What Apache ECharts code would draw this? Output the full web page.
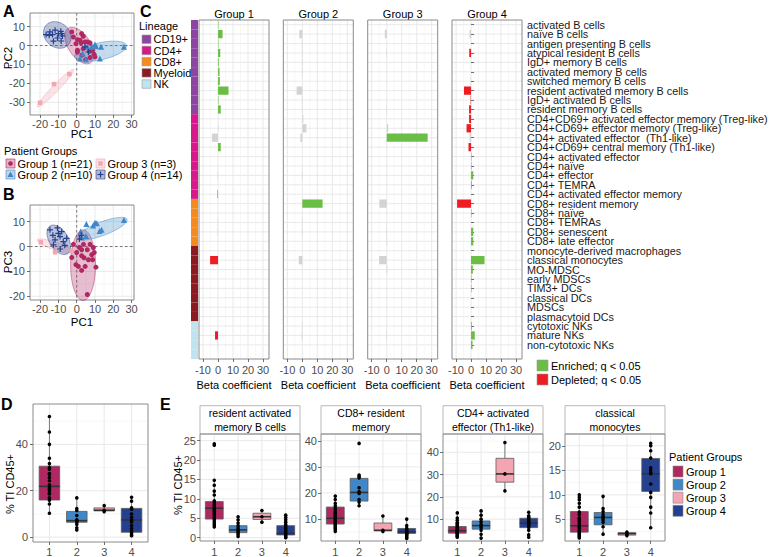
<!DOCTYPE html>
<html>
<head>
<meta charset="utf-8">
<script src="https://cdn.jsdelivr.net/npm/echarts@6/dist/echarts.min.js"></script>
<style>
  * { margin: 0; padding: 0; }
  body { background: #fff; }
  #main { width: 780px; height: 557px; }
</style>
</head>
<body>
<div id="main"></div>
<script>
const FONT = 'Liberation Sans, Arial, Helvetica, sans-serif';

// ---------- groups ----------
const groupNames = ['Group 1', 'Group 2', 'Group 3', 'Group 4'];
const groupN = [21, 10, 3, 14];
const groupColors = ['#B02862', '#3F87C6', '#F3A5B1', '#24408F'];

// ---------- A / B : PCA ----------
const pcaA_g1 = [[-2.7,7.2],[-1.8,4.5],[0.4,3.1],[1.8,2.8],[2.4,1.4],[4.5,1.9],[5.8,1.9],[7.3,1.4],[2.7,6.3],[-0.4,1.0],[0.4,-2.5],[3.6,-1.6],[6.9,-3.0],[8.7,-2.5],[9.5,-4.6],[7.3,-6.3],[0.4,-3.4],[2.9,-5.1],[4.9,-7.4],[10,-6],[3.6,4.9]];
const pcaA_g2 = [[1.8,-6.8],[5.1,-7.4],[5.8,-0.7],[8.2,-0.7],[10.5,-0.4],[13.3,-0.7],[12.7,-6.8],[25.8,-0.7],[3.3,-4.2],[10,0.5]];
const pcaA_g3 = [[-20,-30.2],[-12.4,-20.4],[-4,-15.1]];
const pcaA_g4 = [[-16.7,5.8],[-15,5.4],[-13.2,5.8],[-11.8,8.1],[-10,6.3],[-8.7,7.5],[-7.8,5.1],[-10.5,4],[-12.7,2.3],[-8.5,2.4],[-8.2,6.3],[-14.6,7.2],[4.5,-0.7],[6.4,-3.4]];
// ellipses: [cx, cy, rx, ry, angle deg]
const ellA = [[1.5,0,11,6,-55],[13,-3,14.5,4.5,12],[-11.5,-22.5,14,1.8,45],[-10.6,5.6,8,6.5,-35]];

const pcaB_g1 = [[-1.8,0.9],[1.5,-0.4],[3.7,0.9],[5.8,-1.3],[7.3,0.9],[9.1,-0.4],[9.6,-2.4],[2.7,-3.7],[-2.7,-4.4],[6.4,-5.3],[8.7,-5.3],[4.6,-8],[-0.4,-7.3],[0.9,-8],[10.5,-8.3],[2.7,-9.6],[5.8,-19.3],[2.7,-1.3],[0,-2.4],[8.2,-3.3],[4,-4.5]];
const pcaB_g2 = [[2.2,6],[5.3,9.1],[10,9.6],[11,9.4],[13.6,6.7],[25.8,10.7],[5.1,4.2],[2.7,3.6],[12.5,6.2],[9,8.5]];
const pcaB_g3 = [[-19.6,1.7],[-11.8,-2.3],[-2.7,-1.7]];
const pcaB_g4 = [[-14.6,6.7],[-10,5.3],[-8.2,6],[-9.1,4],[-11.8,2.7],[-7.3,2],[-12.7,0.7],[-5.5,3.3],[-10.5,7.5],[-13,4.5],[-6.5,0.5],[-9,-1],[2.5,4.5],[1.5,3]];
const ellB = [[3.5,-7.5,14.2,6.8,90],[14,7.2,14,2.8,15],[-11,0,11,1.6,-14],[-9.8,2.7,7.5,4.5,-40]];

// ---------- C : beta coefficients ----------
const cellTypes = ['activated B cells','naïve B cells','antigen presenting B cells','atypical resident B cells','IgD+ memory B cells','activated memory B cells','switched memory B cells','resident activated memory B cells','IgD+ activated B cells','resident memory B cells',
  'CD4+CD69+ activated effector memory (Treg-like)','CD4+CD69+ effector memory (Treg-like)','CD4+ activated effector  (Th1-like)','CD4+CD69+ central memory (Th1-like)','CD4+ activated effector','CD4+ naïve','CD4+ effector','CD4+ TEMRA','CD4+ activated effector memory',
  'CD8+ resident memory','CD8+ naïve','CD8+ TEMRAs','CD8+ senescent','CD8+ late effector',
  'monocyte-derived macrophages','classical monocytes','MO-MDSC','early MDSCs','TIM3+ DCs','classical DCs','MDSCs','plasmacytoid DCs',
  'cytotoxic NKs','mature NKs','non-cytotoxic NKs'];
const rowCats = cellTypes.concat(['']);
const lineages = ['CD19+', 'CD4+', 'CD8+', 'Myeloid', 'NK'];
const lineageColors = ['#8C45A0', '#D7198B', '#F58B1F', '#8C1A21', '#BFE4F0'];
const rowLineage = ['CD19+','CD19+','CD19+','CD19+','CD19+','CD19+','CD19+','CD19+','CD19+','CD19+',
  'CD4+','CD4+','CD4+','CD4+','CD4+','CD4+','CD4+','CD4+','CD4+',
  'CD8+','CD8+','CD8+','CD8+','CD8+',
  'Myeloid','Myeloid','Myeloid','Myeloid','Myeloid','Myeloid','Myeloid','Myeloid',
  'NK','NK','NK','NK'];
const betaTitles = ['Group 1', 'Group 2', 'Group 3', 'Group 4'];
const beta1 = [0.3,3,0.3,1.5,0.5,1,1.2,7,0.3,1.8, 0,0.3,-4,1.8,0,0,-0.3,0,-0.3, 0,0,-0.3,-0.3,0, 0,-5.3,0,0,0,0,0,0, 0,-2,-0.3];
const sig1  = ['E','E','E','E','E','E','E','E','E','E', 'N','N','N','E','N','N','N','N','D', 'N','N','N','N','N', 'N','D','N','N','N','N','N','N', 'N','D','N'];
const beta2 = [0,-2,-0.3,-0.3,-0.3,-0.3,0,-3.8,-0.3,-0.3, 0.7,2.7,-1.3,0,0,0,-0.3,0,0, 13.5,0,-0.3,-0.3,0, 0,-2.4,0,0,0,0,0,0, -0.3,-0.5,0];
const sig2  = ['N','N','N','N','N','N','N','N','N','N', 'N','N','N','N','N','N','N','N','N', 'E','N','N','N','N', 'N','N','N','N','N','N','N','N', 'N','N','N'];
const beta3 = [0,-1.3,0,-0.3,0,0,0,0,0,-0.3, 0,1,27.3,0,0,0,0,0,0, -4.9,0,0,-0.3,0.3, 0,-5.1,0.4,0,0,0,0,0, 0,-0.3,0];
const sig3  = ['N','N','N','N','N','N','N','N','N','N', 'N','N','E','N','N','N','N','N','N', 'N','N','N','N','N', 'N','N','N','N','N','N','N','N', 'N','N','N'];
const beta4 = [0,-1,0,-1.2,0,0,-0.3,-4.7,-0.3,-1.3, -1.3,-3,-1,-1.7,0.3,0.3,1.5,0.5,0, -9.3,0.3,0,1.5,1.5, 0,9,1.2,0.3,0.3,0,0,0, 0.5,2.5,1];
const sig4  = ['N','N','N','D','N','N','N','D','D','D', 'D','D','N','D','E','E','E','E','N', 'D','E','N','E','E', 'N','E','E','E','E','N','N','N', 'E','E','E'];
const sigColors = { E: '#6BBE45', D: '#EE1D23', N: '#D3D3D3' };
const sigLabels = ['Enriched; q < 0.05', 'Depleted; q < 0.05'];

// ---------- D : % TI CD45+ ----------
const dBox = [[10.3,16,21.9,30.6,52],[3.1,6.4,7.1,11.1,16.9],[11,11.3,11.6,12.6,13.6],[0.6,2.1,7.4,12.4,17.4]];
const dPts = [[52,45.3,40,34,31.7,30,29.3,27.4,27.1,25.7,24.3,22.6,21.4,20.7,20,18.9,18.6,16.9,15.9,14.3,10.3],
  [16.9,12.3,11.5,9.3,7.5,7.1,6.4,5.5,4,3.1],[13.6,11.6,11],[17.2,15.5,12.6,12,10,8.5,7.4,6.5,5,3.7,2.5,1.8,1,0.6]];

// ---------- E : four cell types ----------
const eTitles = [['resident activated','memory B cells'],['CD8+ resident','memory'],['CD4+ activated','effector (Th1-like)'],['classical','monocytes']];
const resActMemB_box = [[2.8,4.8,7.6,9.3,15.1],[0.3,1.3,2.0,3.1,5.4],[4.0,4.7,5.4,6.3,7.0],[0,0.7,1.1,3.1,5.8]];
const resActMemB_pts = [[24.2,23.8,14.8,13.5,12,11,9.5,9,8.5,8,7.6,7.2,6.8,6.3,5.8,5.2,4.8,4.3,3.8,3.3,2.8],
  [5.4,4.6,3.8,3.1,2.5,2.0,1.6,1.2,0.8,0.3],[7.0,5.4,4.0],[5.8,5.2,4.6,4.0,3.4,3.0,2.5,2.0,1.6,1.1,0.8,0.5,0.2,0]];
const cd8ResMem_box = [[5.1,8.1,10.3,14.6,19.2],[15.1,16.9,20.2,25.6,26.9],[5.3,5.5,5.7,8.5,11.2],[2.6,4.5,5.1,6.4,10.3]];
const cd8ResMem_pts = [[18.8,17.5,16,15,14,13.2,12.5,12,11.5,11,10.5,10,9.5,9,8.5,8,7.5,7,6.5,6,5.3],
  [39,26.9,26.3,25.8,22,20.5,19.8,17.5,16.5,15.1],[11.2,5.7,5.3],[10,7.5,6.5,6,5.5,5.2,5,4.8,4.5,4.2,4,3.5,3,2.6]];
const cd4ActEff_box = [[1.9,3.7,4.8,6.7,13.1],[1.5,5.5,7.1,9.2,13.7],[22.7,26.6,30.3,37.3,44.4],[1.9,6.2,8.2,10.4,13.1]];
const cd4ActEff_pts = [[12.8,10.5,9.5,8.5,8,7.5,7,6.5,6,5.5,5.2,4.8,4.5,4.2,4,3.7,3.4,3,2.6,2.2,1.9],
  [13.7,11.8,10,8.8,7.6,7,6.2,5,3.2,1.5],[44.4,30.3,22.7],[13.1,11.5,10.8,10.2,9.6,9,8.5,8,7.5,7,6.3,5,3,1.9]];
const clasMono_box = [[1.3,2.4,3.7,6.6,10.1],[2.0,3.9,5.4,6.4,9.7],[1.7,1.8,2.1,2.3,2.4],[3.3,10.7,14.3,17.4,20.6]];
const clasMono_pts = [[10,9.5,9,8.3,7.5,6.5,6,5.3,5,4.6,4.2,3.8,3.5,3.2,2.8,2.5,2.2,2,1.7,1.5,1.2],
  [9.7,7.2,6.6,6,5.6,5.3,4.9,4.4,3.5,2],[2.4,2.0,1.7],[20.5,20,19,17.5,15.5,15,14.5,14.3,12.2,10.5,9.5,7.5,6.3,3.3]];

// ---------- helpers ----------
const grids = [], xAxes = [], yAxes = [], series = [], graphics = [];

function rgba(hex, a) {
  const n = parseInt(hex.slice(1), 16);
  return 'rgba(' + (n >> 16) + ',' + ((n >> 8) & 255) + ',' + (n & 255) + ',' + a + ')';
}
function ticksIn(min, max, step, off) {
  const out = [];
  for (let v = Math.ceil((min - off) / step) * step + off; v < max; v += step) {
    if (v > min) out.push(+v.toFixed(6));
  }
  return out;
}
function valueAxis(gi, min, max, split, margin, extra) {
  return Object.assign({
    type: 'value', gridIndex: gi, min: min, max: max, splitNumber: split,
    axisLine: { show: false, onZero: false },
    axisTick: { show: true, length: 3, lineStyle: { color: '#4d4d4d', width: 0.8 } },
    axisLabel: { showMinLabel: false, showMaxLabel: false, color: '#4d4d4d', fontSize: 11, fontFamily: FONT, margin: margin },
    splitLine: { show: false }
  }, extra || {});
}
// panel background: grid lines + border, ggplot theme_bw look
function bgSeries(gi, o) {
  return {
    type: 'custom', xAxisIndex: gi, yAxisIndex: gi, z: 0, silent: true, data: [[0, 0]],
    renderItem: function (p, api) {
      const cs = p.coordSys, kids = [];
      const T = cs.y, B = cs.y + cs.height, L = cs.x, R = cs.x + cs.width;
      const v = (val, w, c, dash) => {
        const x = api.coord([val, 0])[0];
        kids.push({ type: 'line', shape: { x1: x, y1: T, x2: x, y2: B }, style: { stroke: c, lineWidth: w, lineDash: dash || null } });
      };
      const h = (val, w, c, dash) => {
        const y = api.coord([0, val])[1];
        kids.push({ type: 'line', shape: { x1: L, y1: y, x2: R, y2: y }, style: { stroke: c, lineWidth: w, lineDash: dash || null } });
      };
      (o.xMinor || []).forEach(a => v(a, 0.5, '#EFEFEF'));
      (o.yMinor || []).forEach(a => h(a, 0.5, '#EFEFEF'));
      (o.xMajor || []).forEach(a => v(a, 0.9, '#E6E6E6'));
      (o.yMajor || []).forEach(a => h(a, 0.9, '#E6E6E6'));
      if (o.zero) { v(0, 0.8, '#555', [2.5, 2.5]); h(0, 0.8, '#555', [2.5, 2.5]); }
      kids.push({ type: 'rect', shape: { x: L, y: T, width: cs.width, height: cs.height }, style: { fill: 'none', stroke: '#8A8A8A', lineWidth: 1 } });
      return { type: 'group', children: kids };
    }
  };
}
function ellipseSeries(gi, ells) {
  return {
    type: 'custom', xAxisIndex: gi, yAxisIndex: gi, z: 1, silent: true,
    data: ells.map((e, i) => [e[0], e[1], i]),
    renderItem: function (p, api) {
      const e = ells[p.dataIndex], a = e[4] * Math.PI / 180, pts = [];
      for (let k = 0; k < 80; k++) {
        const t = k / 80 * 2 * Math.PI, dx = e[2] * Math.cos(t), dy = e[3] * Math.sin(t);
        pts.push(api.coord([e[0] + dx * Math.cos(a) - dy * Math.sin(a), e[1] + dx * Math.sin(a) + dy * Math.cos(a)]));
      }
      const col = groupColors[p.dataIndex];
      return { type: 'polygon', shape: { points: pts }, style: { fill: rgba(col, 0.3), stroke: rgba(col, 0.6), lineWidth: 0.8 } };
    }
  };
}
function boxSeries(gi, boxes) {
  return {
    type: 'custom', xAxisIndex: gi, yAxisIndex: gi, z: 2, silent: true,
    data: boxes.map((b, i) => [i + 1].concat(b)),
    encode: { x: 0, y: [1, 2, 3, 4, 5] },
    renderItem: function (p, api) {
      const xv = api.value(0);
      const c = i => api.coord([xv, api.value(i)]);
      const pMin = c(1), pQ1 = c(2), pMed = c(3), pQ3 = c(4), pMax = c(5);
      const hw = api.size([0.75, 0])[0] / 2, cx = pMin[0];
      return { type: 'group', children: [
        { type: 'line', shape: { x1: cx, y1: pMax[1], x2: cx, y2: pQ3[1] }, style: { stroke: '#5a5a5a', lineWidth: 0.8 } },
        { type: 'line', shape: { x1: cx, y1: pQ1[1], x2: cx, y2: pMin[1] }, style: { stroke: '#5a5a5a', lineWidth: 0.8 } },
        { type: 'rect', shape: { x: cx - hw, y: pQ3[1], width: 2 * hw, height: pQ1[1] - pQ3[1] }, style: { fill: groupColors[p.dataIndex], stroke: '#5a5a5a', lineWidth: 0.8 } },
        { type: 'line', shape: { x1: cx - hw, y1: pMed[1], x2: cx + hw, y2: pMed[1] }, style: { stroke: '#333', lineWidth: 1.6 } }
      ] };
    }
  };
}
function pointSeries(gi, pts) {
  const data = [];
  pts.forEach((arr, i) => arr.forEach(v => data.push([i + 1, v])));
  return { type: 'scatter', xAxisIndex: gi, yAxisIndex: gi, z: 3, silent: true, data: data, symbolSize: 3.6, itemStyle: { color: '#000', opacity: 1 } };
}
function txt(x, y, s, o) {
  o = o || {};
  graphics.push({
    type: 'text', x: x, y: y, rotation: o.rot || 0, silent: true,
    style: {
      text: s, fill: o.color || '#000', fontSize: o.size || 11, fontFamily: FONT, fontWeight: o.weight || 'normal',
      textAlign: o.align || 'left', textVerticalAlign: o.va || 'middle', align: o.align || 'left', verticalAlign: o.va || 'middle'
    }
  });
}
function box(x, y, w, h, fill, stroke) {
  graphics.push({ type: 'rect', silent: true, shape: { x: x, y: y, width: w, height: h }, style: { fill: fill, stroke: stroke || 'none', lineWidth: 0.6 } });
}

// ---------- A & B ----------
const pcaPanels = [
  { rect: { left: 30, top: 13, width: 104, height: 102 }, y: [-36.7, 17.2], ySplit: 5, pts: [pcaA_g1, pcaA_g2, pcaA_g3, pcaA_g4], ell: ellA },
  { rect: { left: 30, top: 205, width: 104, height: 95 }, y: [-21.5, 16.7], ySplit: 4, pts: [pcaB_g1, pcaB_g2, pcaB_g3, pcaB_g4], ell: ellB }
];
const pcaX = [-25.5, 31.3];
const pcaSymbols = ['circle', 'triangle', 'rect', 'path://M4,0H6V4H10V6H6V10H4V6H0V4H4Z'];
const pcaSymbolSize = [5, 6, 4.5, 6];
pcaPanels.forEach(pp => {
  grids.push(pp.rect);
  const gi = grids.length - 1;
  xAxes.push(valueAxis(gi, pcaX[0], pcaX[1], 5, 3));
  yAxes.push(valueAxis(gi, pp.y[0], pp.y[1], pp.ySplit, 5));
  series.push(bgSeries(gi, {
    xMajor: ticksIn(pcaX[0], pcaX[1], 10, 0), xMinor: ticksIn(pcaX[0], pcaX[1], 10, 5),
    yMajor: ticksIn(pp.y[0], pp.y[1], 10, 0), yMinor: ticksIn(pp.y[0], pp.y[1], 10, 5), zero: true
  }));
  series.push(ellipseSeries(gi, pp.ell));
  pp.pts.forEach((d, i) => series.push({
    type: 'scatter', xAxisIndex: gi, yAxisIndex: gi, z: 3, silent: true, data: d,
    symbol: pcaSymbols[i], symbolSize: pcaSymbolSize[i], itemStyle: { color: groupColors[i], opacity: 1 }
  }));
});

// ---------- C ----------
const cLefts = [199, 283.3, 367.7, 452];
const betaX = [-12.7, 34];
const betas = [beta1, beta2, beta3, beta4], sigs = [sig1, sig2, sig3, sig4];
cLefts.forEach((left, g) => {
  grids.push({ left: left, top: 20, width: 70, height: 339 });
  const gi = grids.length - 1;
  xAxes.push(valueAxis(gi, betaX[0], betaX[1], 5, 5, {
    name: 'Beta coefficient', nameLocation: 'middle', nameGap: 16,
    nameTextStyle: { color: '#000', fontSize: 11, fontFamily: FONT }
  }));
  const last = g === 3;
  yAxes.push({
    type: 'category', gridIndex: gi, data: rowCats, inverse: true, position: 'right',
    axisLine: { show: false },
    axisTick: last ? { show: true, alignWithLabel: true, length: 3, interval: i => i < cellTypes.length, lineStyle: { color: '#4d4d4d', width: 0.8 } } : { show: false },
    axisLabel: { show: last, interval: 0, color: '#1a1a1a', fontSize: 10.8, fontFamily: FONT, margin: 5 },
    splitLine: { show: false }
  });
  series.push(bgSeries(gi, {
    xMajor: ticksIn(betaX[0], betaX[1], 10, 0), xMinor: ticksIn(betaX[0], betaX[1], 10, 5),
    yMajor: cellTypes.map((c, i) => i)
  }));
  series.push({
    type: 'bar', xAxisIndex: gi, yAxisIndex: gi, z: 2, silent: true, barWidth: '88%',
    data: betas[g].map((v, i) => ({ value: v, itemStyle: { color: sigColors[sigs[g][i]] } }))
  });
  txt(left + 35, 14, betaTitles[g], { align: 'center', size: 11 });
});
// lineage strip
grids.push({ left: 191, top: 20, width: 7, height: 339 });
(function () {
  const gi = grids.length - 1;
  xAxes.push({ type: 'value', gridIndex: gi, min: 0, max: 1, show: false });
  yAxes.push({ type: 'category', gridIndex: gi, data: rowCats, inverse: true, show: false });
  series.push({
    type: 'bar', xAxisIndex: gi, yAxisIndex: gi, barWidth: '100%', silent: true,
    data: rowLineage.map(l => ({ value: 1, itemStyle: { color: lineageColors[lineages.indexOf(l)] } }))
  });
})();

// ---------- D ----------
grids.push({ left: 33, top: 404, width: 115, height: 139 });
(function () {
  const gi = grids.length - 1, yr = [-2.1, 57.4];
  xAxes.push(valueAxis(gi, 0.4, 4.6, 4, 4));
  yAxes.push(valueAxis(gi, yr[0], yr[1], 3, 5));
  series.push(bgSeries(gi, { xMajor: [1, 2, 3, 4], yMajor: ticksIn(yr[0], yr[1], 20, 0), yMinor: ticksIn(yr[0], yr[1], 20, 10) }));
  series.push(boxSeries(gi, dBox));
  series.push(pointSeries(gi, dPts));
})();

// ---------- E ----------
const eLefts = [200, 321, 443, 565];
const eYRange = [[-0.85, 26.7], [1.6, 42.6], [0.2, 48.2], [0.6, 22.4]];
const eStep = [5, 10, 10, 5];
const eBoxes = [resActMemB_box, cd8ResMem_box, cd4ActEff_box, clasMono_box];
const ePoints = [resActMemB_pts, cd8ResMem_pts, cd4ActEff_pts, clasMono_pts];
eLefts.forEach((left, f) => {
  grids.push({ left: left, top: 434, width: 100, height: 107 });
  const gi = grids.length - 1, yr = eYRange[f];
  xAxes.push(valueAxis(gi, 0.4, 4.6, 4, 5));
  yAxes.push(valueAxis(gi, yr[0], yr[1], Math.round((yr[1] - yr[0]) / eStep[f]), 4));
  series.push(bgSeries(gi, { xMajor: [1, 2, 3, 4], yMajor: ticksIn(yr[0], yr[1], eStep[f], 0), yMinor: ticksIn(yr[0], yr[1], eStep[f], eStep[f] / 2) }));
  series.push(boxSeries(gi, eBoxes[f]));
  series.push(pointSeries(gi, ePoints[f]));
  box(left, 405.7, 100, 28.3, '#fff', '#8A8A8A');
  txt(left + 50, 412.5, eTitles[f][0], { align: 'center', size: 10.5 });
  txt(left + 50, 427, eTitles[f][1], { align: 'center', size: 10.5 });
});

// ---------- text, legends ----------
txt(3, 3, 'A', { size: 16, weight: 'bold', va: 'top' });
txt(3, 186, 'B', { size: 16, weight: 'bold', va: 'top' });
txt(140, 3, 'C', { size: 16, weight: 'bold', va: 'top' });
txt(1, 396, 'D', { size: 16, weight: 'bold', va: 'top' });
txt(160, 396, 'E', { size: 16, weight: 'bold', va: 'top' });

txt(82, 134, 'PC1', { align: 'center', size: 11.5 });
txt(82, 322, 'PC1', { align: 'center', size: 11.5 });
txt(8, 58, 'PC2', { align: 'center', size: 11.5, rot: Math.PI / 2 });
txt(8, 262, 'PC3', { align: 'center', size: 11.5, rot: Math.PI / 2 });
txt(10, 484, '% TI CD45+', { align: 'center', size: 11, rot: Math.PI / 2 });
txt(178, 485, '% TI CD45+', { align: 'center', size: 11, rot: Math.PI / 2 });

// A legend
txt(4, 151, 'Patient Groups', { size: 11 });
const legPos = [[6, 159], [6, 170], [96, 159], [96, 170]];
legPos.forEach((p, i) => {
  const col = groupColors[i];
  box(p[0], p[1], 9, 9, rgba(col, 0.35), col);
  const cx = p[0] + 4.5, cy = p[1] + 4.5;
  if (i === 0) graphics.push({ type: 'circle', silent: true, shape: { cx: cx, cy: cy, r: 2.3 }, style: { fill: col } });
  if (i === 1) graphics.push({ type: 'polygon', silent: true, shape: { points: [[cx, cy - 3], [cx + 3, cy + 2.4], [cx - 3, cy + 2.4]] }, style: { fill: col } });
  if (i === 2) box(cx - 2.2, cy - 2.2, 4.4, 4.4, col);
  if (i === 3) {
    graphics.push({ type: 'line', silent: true, shape: { x1: cx - 3, y1: cy, x2: cx + 3, y2: cy }, style: { stroke: col, lineWidth: 1.2 } });
    graphics.push({ type: 'line', silent: true, shape: { x1: cx, y1: cy - 3, x2: cx, y2: cy + 3 }, style: { stroke: col, lineWidth: 1.2 } });
  }
  txt(p[0] + 11.5, p[1] + 4.8, groupNames[i] + ' (n=' + groupN[i] + ')', { size: 11 });
});

// Lineage legend
txt(139, 26, 'Lineage', { size: 11 });
lineages.forEach((l, i) => {
  box(142, 35 + i * 11.2, 9, 8.5, lineageColors[i], '#9a9a9a');
  txt(153.5, 39.3 + i * 11.2, l, { size: 11 });
});

// Significance legend
[['E', 0], ['D', 1]].forEach(s => {
  box(537, 360 + s[1] * 14, 11, 11, sigColors[s[0]], '#9a9a9a');
  txt(551, 366 + s[1] * 14, sigLabels[s[1]], { size: 11 });
});

// E legend
txt(669, 457, 'Patient Groups', { size: 11 });
groupNames.forEach((g, i) => {
  box(673, 466 + i * 13.1, 10, 11, groupColors[i], '#8a8a8a');
  txt(686, 471.7 + i * 13.1, g, { size: 11 });
});

const chart = echarts.init(document.getElementById('main'), null, { renderer: 'svg' });
chart.setOption({
  animation: false,
  backgroundColor: '#fff',
  textStyle: { fontFamily: FONT },
  grid: grids,
  xAxis: xAxes,
  yAxis: yAxes,
  series: series,
  graphic: { elements: graphics }
});
</script>
</body>
</html>
